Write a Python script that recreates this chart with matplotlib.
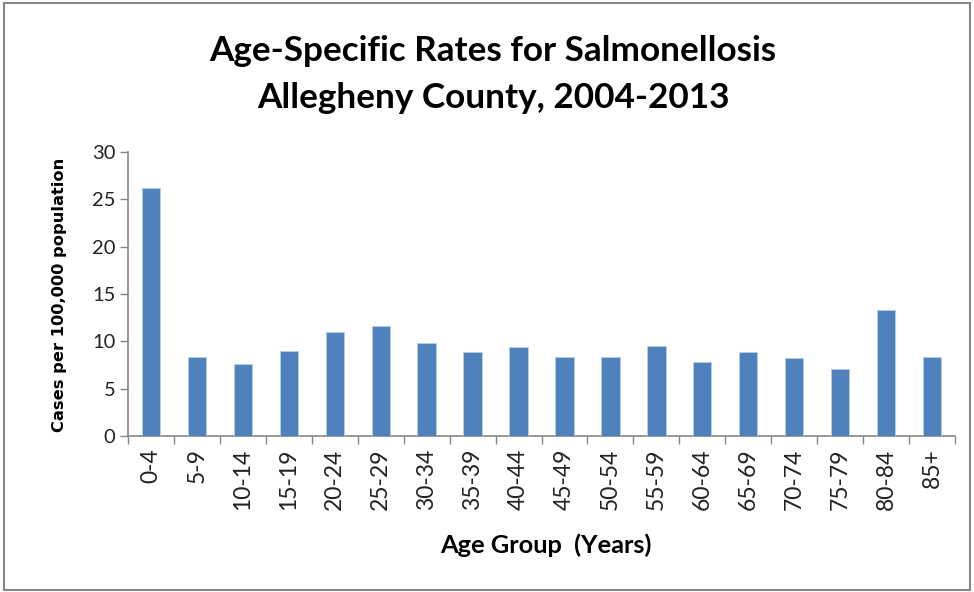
import matplotlib
matplotlib.use("Agg")
from matplotlib import pyplot as plt
import numpy as np

## data
age_groups = ["0-4", "5-9", "10-14", "15-19", "20-24", "25-29", "30-34", "35-39",
              "40-44", "45-49", "50-54", "55-59", "60-64", "65-69", "70-74", "75-79",
              "80-84", "85+"]
rates = [26.15, 8.32, 7.65, 9.02, 10.96, 11.63, 9.87, 8.88, 9.45,
         8.32, 8.32, 9.55, 7.79, 8.88, 8.21, 7.05, 13.29, 8.32]

body_font = ["Lato", "DejaVu Sans"]
grey = "#868686"

fig = plt.figure(figsize=(9.74, 5.92), dpi=100)
ax = fig.add_axes([128 / 974, 1 - 436 / 592, (955 - 128) / 974, (436 - 152) / 592])

x = np.arange(len(age_groups))
ax.bar(x, rates, width=0.4, color="#4F81BD", edgecolor="#B9CDE5", linewidth=0.6, zorder=3)

ax.set_xlim(-0.5, len(age_groups) - 0.5)
ax.set_ylim(0, 30)
ax.set_yticks(range(0, 31, 5))
ax.set_yticklabels([str(v) for v in range(0, 31, 5)], family=body_font, fontsize=14.5, color="#222222")
ax.set_xticks(x)
ax.set_xticklabels(age_groups, rotation=90, fontsize=16.5, family=body_font, color="#222222")
ax.set_xticks(np.arange(-0.5, len(age_groups)), minor=True)
ax.tick_params(axis="x", which="major", length=0, pad=9)
ax.tick_params(axis="x", which="minor", length=6, width=1, color=grey)
ax.tick_params(axis="y", length=6, width=1, color=grey, pad=3)

for s in ["top", "right"]:
    ax.spines[s].set_visible(False)
for s in ["left", "bottom"]:
    ax.spines[s].set_color(grey)
    ax.spines[s].set_linewidth(1.2)

# titles and axis labels
fig.text(493 / 974, 1 - 51 / 592, "Age-Specific Rates for Salmonellosis", ha="center", va="center",
         fontsize=25.3, fontweight="bold", family=body_font)
fig.text(493 / 974, 1 - 98 / 592, "Allegheny County, 2004-2013", ha="center", va="center",
         fontsize=25.3, fontweight="bold", family=body_font)
fig.text(546 / 974, 1 - 545 / 592, "Age Group  (Years)", ha="center", va="center",
         fontsize=18.3, fontweight="bold", family=body_font)
fig.text(60 / 974, 1 - 295 / 592, "Cases per 100,000 population", ha="center", va="center",
         rotation=90, fontsize=11.7, fontweight="bold", family="DejaVu Sans")

# outer chart frame
fig.patches.append(plt.Rectangle((4 / 974, 2 / 592), 966 / 974, 587 / 592, transform=fig.transFigure,
                                 fill=False, edgecolor=grey, linewidth=1.5))

fig.savefig("out.png", dpi=100)
